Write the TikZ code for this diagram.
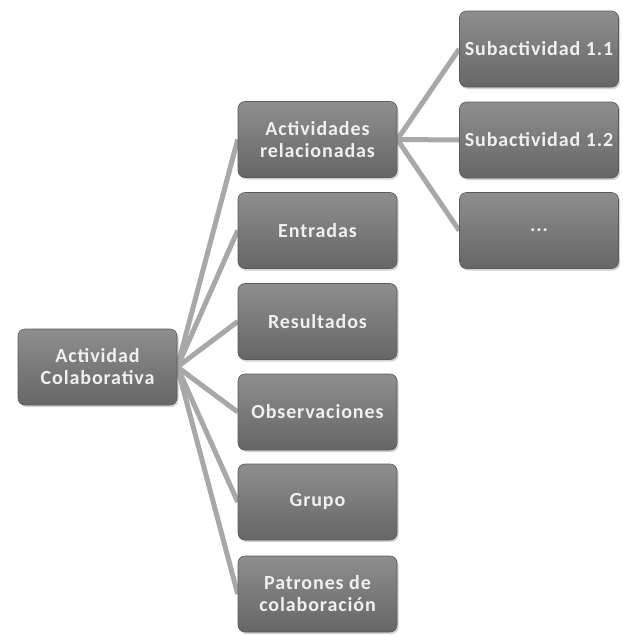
\documentclass[tikz,border=0pt]{standalone}
\usepackage{fontspec}
\setmainfont{Carlito}
\newfontfamily\boxfont[LetterSpace=4.5]{Carlito}
\usetikzlibrary{shadows,backgrounds}
\definecolor{linkgray}{HTML}{A8A8A8}
\definecolor{boxtop}{HTML}{8E8E8E}
\definecolor{boxbot}{HTML}{666666}
\definecolor{boxedge}{HTML}{5A5A5A}
\tikzset{
  box/.style={rectangle, rounded corners=7pt, minimum width=159pt, minimum height=76pt,
    inner sep=0pt, align=center, top color=boxtop, bottom color=boxbot, draw=boxedge, line width=0.6pt,
    text=white!94!black, font=\boxfont\fontsize{20}{22}\selectfont\bfseries,
    drop shadow={opacity=0.35, shadow xshift=1.5pt, shadow yshift=-2pt}},
  link/.style={draw=linkgray, line width=5pt}
}
\begin{document}
\begin{tikzpicture}[x=1pt,y=-1pt]
\useasboundingbox (0,0) rectangle (622,635);
\node[box] (root) at (97.5,367) {Actividad\\Colaborativa};
\node[box] (act) at (317.5,139.5) {Actividades\\relacionadas};
\node[box] (ent) at (317.5,230.5) {Entradas};
\node[box] (res) at (317.5,321.5) {Resultados};
\node[box] (obs) at (317.5,412) {Observaciones};
\node[box] (gru) at (317.5,502) {Grupo};
\node[box] (pat) at (317.5,594) {Patrones de\\colaboración};
\node[box] (s11) at (539,49) {Subactividad 1.1};
\node[box] (s12) at (539,140) {Subactividad 1.2};
\node[box] (s13) at (539,230.5) {...};
\begin{scope}[on background layer]
\foreach \c in {act,ent,res,obs,gru,pat}
  \draw[link] (root.east) -- (\c.west);
\foreach \c in {s11,s12,s13}
  \draw[link] (act.east) -- (\c.west);
\end{scope}
\end{tikzpicture}
\end{document}
